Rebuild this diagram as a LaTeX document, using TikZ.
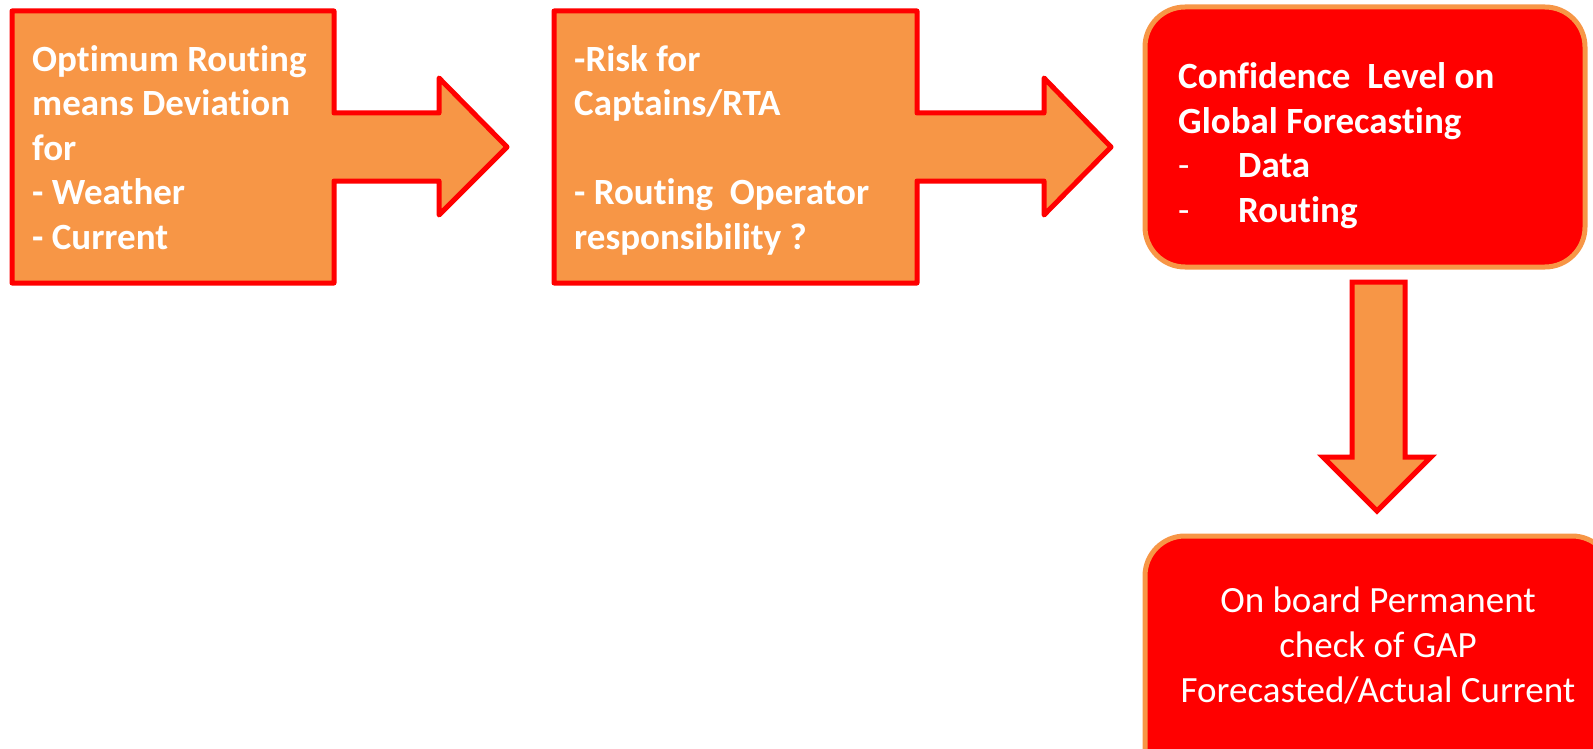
\documentclass[tikz,border=0pt]{standalone}
\usepackage{fontspec}
\setmainfont{Carlito}[Ligatures=NoCommon,RawFeature=-liga]
\definecolor{boxorange}{HTML}{F79646}
\definecolor{boxred}{HTML}{FF0000}
\begin{document}
\begin{tikzpicture}[x=1pt,y=-1pt,
  callout/.style={draw=boxred,fill=boxorange,line width=5pt,line join=round},
  downarrow/.style={draw=boxred,fill=boxorange,line width=5pt,line join=miter},
  roundbox/.style={draw=boxorange,fill=boxred,line width=5pt,rounded corners=40pt},
  btext/.style={text=white,font=\fontsize{37}{44.5}\selectfont\bfseries,align=left,inner sep=0pt,anchor=base west},
  ntext/.style={text=white,font=\fontsize{37}{45}\selectfont,align=center,inner sep=0pt,anchor=base}]
\useasboundingbox (0,0) rectangle (1593,749);
% first callout
\draw[callout] (12,11) -- (334,11) -- (334,113) -- (439,113) -- (439,78) -- (507,147)
  -- (439,215) -- (439,181) -- (334,181) -- (334,283) -- (12,283) -- cycle;
% second callout
\draw[callout] (554,11) -- (917,11) -- (917,113) -- (1044,113) -- (1044,78) -- (1111,147)
  -- (1044,215) -- (1044,181) -- (917,181) -- (917,283) -- (554,283) -- cycle;
% third rounded box
\draw[roundbox] (1145,7) rectangle (1585,267);
% down arrow
\draw[downarrow] (1352,282) -- (1405,282) -- (1405,457) -- (1431,457) -- (1377,511)
  -- (1323,457) -- (1352,457) -- cycle;
% bottom box
\draw[roundbox] (1145,536) rectangle (1612,790);
% texts (anchor at baseline of last line)
\node[btext] (t1) at (32,249) {Optimum Routing\\means Deviation\\for\\- Weather\\- Current};
\node[btext] (t2) at (574,249) {-Risk for\\Captains/RTA\\[44.5pt]- Routing\ \ Operator\\responsibility ?};
\node[btext] (t3) at (1178,222) {Confidence\ \ Level on\\Global Forecasting\\\makebox[60pt][l]{\mdseries -}Data\\\makebox[60pt][l]{\mdseries -}Routing};
\node[ntext] (t4) at (1378,702) {On board Permanent\\check of GAP\\Forecasted/Actual Current};
\end{tikzpicture}
\end{document}
